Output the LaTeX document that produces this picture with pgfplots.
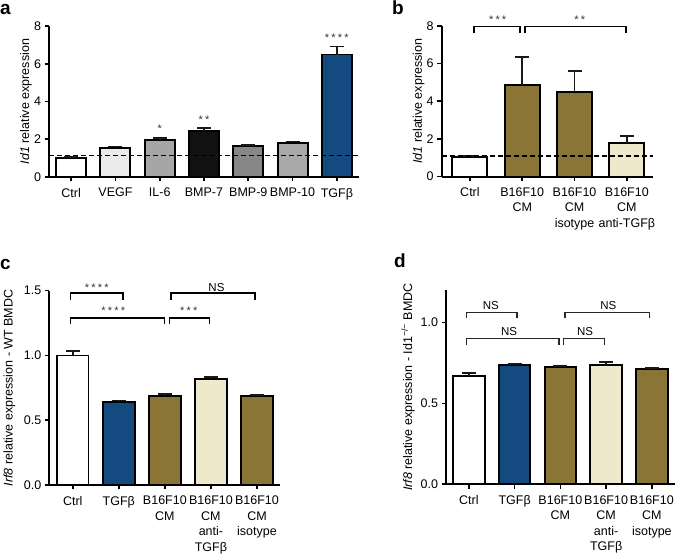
\documentclass[border=0pt]{standalone}
\usepackage{pgfplots}
\pgfplotsset{compat=1.18}
\usepackage{fontspec}
\setmainfont{Liberation Sans}
\definecolor{myolive}{HTML}{8B7536}
\definecolor{cream}{HTML}{EFE9CC}
\definecolor{tblue}{HTML}{134A80}
\definecolor{ga}{HTML}{EBEBEB}
\definecolor{gb}{HTML}{A6A6A6}
\definecolor{gc}{HTML}{111111}
\definecolor{gd}{HTML}{878787}
\definecolor{ge}{HTML}{A8A8A8}
\newcommand{\sA}{*}
\newcommand{\sB}{*\hspace{2.2pt}*}
\newcommand{\sC}{*\hspace{2.2pt}*\hspace{2.2pt}*}
\newcommand{\sD}{*\hspace{2.2pt}*\hspace{2.2pt}*\hspace{2.2pt}*}
\tikzset{
  stx/.style={anchor=base, font=\fontsize{11}{11}\selectfont, text=black!80},
  nsx/.style={anchor=base, font=\fontsize{11.5}{11.5}\selectfont},
}
\pgfplotsset{
  panel/.style={
    scale only axis, anchor=south west,
    axis x line*=bottom, axis y line*=left,
    ymin=0, clip=false,
    axis line style={line width=1.8pt, black, -},
    every tick/.style={line width=1.6pt, black},
    major tick length=4.5pt, tick align=outside,
    xtick pos=bottom, ytick pos=left,
    font=\fontsize{12.5}{15.5}\selectfont,
    tick label style={font=\fontsize{12.5}{15.5}\selectfont},
    xticklabel style={align=center, yshift=-3pt},
    /pgf/number format/assume math mode=true,
    /pgf/bar shift=0pt,
  },
  bb/.style={ybar, fill=#1, draw=black, line width=1.9pt,
    error bars/.cd, y dir=plus, y explicit,
    error bar style={line width=1.8pt, black!90},
    error mark options={line width=1.8pt, mark size=7pt, black!90, rotate=90}},
  dline/.style={black, line width=1.7pt, dash pattern=on 5pt off 3pt, sharp plot, forget plot},
  brk/.style={black, line width=1.7pt, sharp plot, forget plot, mark=none},
  brkd/.style={black!85, line width=1.2pt, sharp plot, forget plot, mark=none},
}
\begin{document}
\begin{tikzpicture}
\path[use as bounding box] (0pt,0pt) rectangle (685pt,559pt);
% ---------- panel a
\begin{axis}[panel, at={(49pt,382pt)}, width=310pt, height=151pt,
  xmin=-0.5, xmax=6.5, ymax=8, ytick={0,2,4,6,8},
  xtick={0,...,6}, xticklabels={Ctrl,VEGF,IL-6,BMP-7,BMP-9,BMP-10,TGFβ},
  /pgf/bar width=30pt,
  ylabel={\textit{Id1} relative expression},
  ylabel style={at={([xshift=-23pt]axis description cs:0,0.5)}, anchor=center}]
\addplot[bb=white] coordinates {(0,1.0) +- (0,0.05)};
\addplot[bb=ga] coordinates {(1,1.53) +- (0,0.09)};
\addplot[bb=gb] coordinates {(2,1.96) +- (0,0.09)};
\addplot[bb=gc] coordinates {(3,2.45) +- (0,0.13)};
\addplot[bb=gd] coordinates {(4,1.66) +- (0,0.05)};
\addplot[bb=ge] coordinates {(5,1.80) +- (0,0.08)};
\addplot[bb=tblue] coordinates {(6,6.49) +- (0,0.42)};
\addplot[dline] coordinates {(-0.5,1.14) (6.5,1.14)};
\node[stx] at (axis cs:2,2.36) {\sA};
\node[stx] at (axis cs:3,2.86) {\sB};
\node[stx] at (axis cs:6,7.18) {\sD};
\end{axis}
% ---------- panel b
\begin{axis}[panel, at={(441.7pt,382.3pt)}, width=211.3pt, height=151pt,
  xmin=-0.54, xmax=3.5, ymax=8, ytick={0,2,4,6,8},
  xtick={0,...,3}, xticklabels={Ctrl,{B16F10\\CM},{B16F10\\CM\\isotype},{B16F10\\CM\\anti-TGFβ}},
  /pgf/bar width=35pt,
  ylabel={\textit{Id1} relative expression},
  ylabel style={at={([xshift=-23pt]axis description cs:0,0.5)}, anchor=center}]
\addplot[bb=white] coordinates {(0,1.02) +- (0,0.07)};
\addplot[bb=myolive] coordinates {(1,4.86) +- (0,1.5)};
\addplot[bb=myolive] coordinates {(2,4.5) +- (0,1.12)};
\addplot[bb=cream] coordinates {(3,1.8) +- (0,0.37)};
\addplot[dline] coordinates {(-0.54,1.1) (3.5,1.1)};
\addplot[brk] coordinates {(0.08,7.6) (0.08,7.95) (0.96,7.95) (0.96,7.6)};
\addplot[brk] coordinates {(1.05,7.6) (1.05,7.95) (2.98,7.95) (2.98,7.6)};
\node[stx] at (axis cs:0.53,8.1) {\sC};
\node[stx] at (axis cs:2.1,8.1) {\sB};
\end{axis}
% ---------- panel c
\begin{axis}[panel, at={(49.3pt,74pt)}, width=230.7pt, height=194.3pt,
  xmin=-0.51, xmax=4.5, ymax=1.5, ytick={0,0.5,1,1.5},
  yticklabel style={/pgf/number format/.cd, fixed, fixed zerofill, precision=1},
  xtick={0,...,4}, xticklabels={Ctrl,TGFβ,{B16F10\\CM},{B16F10\\CM\\anti-\\TGFβ},{B16F10\\CM\\isotype}},
  /pgf/bar width=31.5pt,
  ylabel={\textit{Irf8} relative expression - WT BMDC},
  ylabel style={at={([xshift=-40pt]axis description cs:0,0.5)}, anchor=center}]
\addplot[bb=white] coordinates {(0,1.0) +- (0,0.034)};
\addplot[bb=tblue] coordinates {(1,0.638) +- (0,0.015)};
\addplot[bb=myolive] coordinates {(2,0.687) +- (0,0.013)};
\addplot[bb=cream] coordinates {(3,0.82) +- (0,0.014)};
\addplot[bb=myolive] coordinates {(4,0.687) +- (0,0.008)};
\addplot[brk] coordinates {(-0.05,1.43) (-0.05,1.48) (1.09,1.48) (1.09,1.43)};
\addplot[brk] coordinates {(-0.05,1.24) (-0.05,1.287) (1.99,1.287) (1.99,1.24)};
\addplot[brk] coordinates {(2.14,1.43) (2.14,1.48) (3.95,1.48) (3.95,1.43)};
\addplot[brk] coordinates {(2.10,1.24) (2.10,1.287) (2.97,1.287) (2.97,1.24)};
\node[stx] at (axis cs:0.52,1.49) {\sD};
\node[stx] at (axis cs:0.88,1.316) {\sD};
\node[nsx] at (axis cs:3.12,1.496) {NS};
\node[stx] at (axis cs:2.52,1.316) {\sC};
\end{axis}
% ---------- panel d
\begin{axis}[panel, at={(446pt,74.7pt)}, width=228.75pt, height=194.3pt,
  xmin=-0.5, xmax=4.5, ymax=1.2, ytick={0,0.5,1},
  yticklabel style={/pgf/number format/.cd, fixed, fixed zerofill, precision=1},
  xtick={0,...,4}, xticklabels={Ctrl,TGFβ,{B16F10\\CM},{B16F10\\CM\\anti-\\TGFβ},{B16F10\\CM\\isotype}},
  /pgf/bar width=31.5pt,
  ylabel={\textit{Irf8} relative expression - Id1\textsuperscript{−/−} BMDC},
  ylabel style={at={([xshift=-38pt]axis description cs:0,0.5)}, anchor=center}]
\addplot[bb=white] coordinates {(0,0.669) +- (0,0.016)};
\addplot[bb=tblue] coordinates {(1,0.737) +- (0,0.008)};
\addplot[bb=myolive] coordinates {(2,0.724) +- (0,0.009)};
\addplot[bb=cream] coordinates {(3,0.739) +- (0,0.018)};
\addplot[bb=myolive] coordinates {(4,0.712) +- (0,0.008)};
\addplot[brkd] coordinates {(-0.06,1.025) (-0.06,1.06) (1.05,1.06) (1.05,1.025)};
\addplot[brkd] coordinates {(-0.06,0.86) (-0.06,0.90) (1.97,0.90) (1.97,0.86)};
\addplot[brkd] coordinates {(2.10,1.025) (2.10,1.06) (3.94,1.06) (3.94,1.025)};
\addplot[brkd] coordinates {(2.07,0.86) (2.07,0.90) (2.96,0.90) (2.96,0.86)};
\node[nsx] at (axis cs:0.48,1.079) {NS};
\node[nsx] at (axis cs:0.88,0.918) {NS};
\node[nsx] at (axis cs:3.05,1.079) {NS};
\node[nsx] at (axis cs:2.54,0.918) {NS};
\end{axis}
% ---------- panel letters
\node[anchor=base west, inner sep=0, font=\fontsize{19}{19}\selectfont\bfseries] at (0pt,544pt) {a};
\node[anchor=base west, inner sep=0, font=\fontsize{19}{19}\selectfont\bfseries] at (392pt,544pt) {b};
\node[anchor=base west, inner sep=0, font=\fontsize{19}{19}\selectfont\bfseries] at (0pt,289pt) {c};
\node[anchor=base west, inner sep=0, font=\fontsize{19}{19}\selectfont\bfseries] at (394pt,291pt) {d};
\end{tikzpicture}
\end{document}
